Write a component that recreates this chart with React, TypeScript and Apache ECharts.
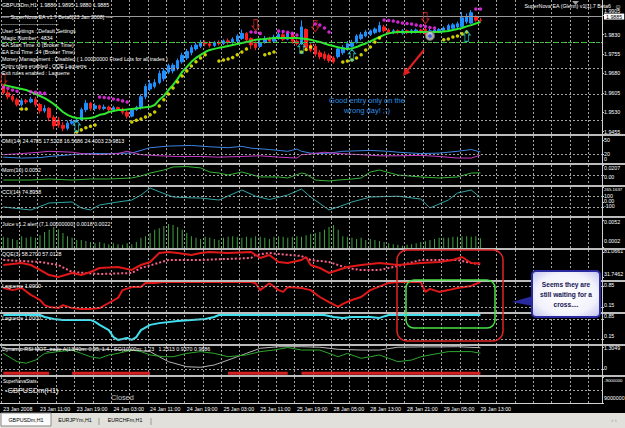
import { useEffect, useRef } from 'react';
import * as echarts from 'echarts';

const FONT = '"Liberation Sans", Arial, Helvetica, sans-serif';
const FS = 5.3;
const FS_SMALL = 4.4;
const SLOTS = 131;
const BARS = 105;
const GRID_C = '#a4a4a4';

// ---------- data ----------
const timeTickLabels = ['23 Jan 2008', '23 Jan 11:00', '23 Jan 19:00', '24 Jan 03:00', '24 Jan 11:00', '24 Jan 19:00', '25 Jan 03:00', '25 Jan 11:00', '25 Jan 19:00', '28 Jan 05:00', '28 Jan 13:00', '28 Jan 21:00', '29 Jan 05:00', '29 Jan 13:00'];

// [open, close, low, high]
const candles: number[][] = [
  [1.9630, 1.9605, 1.9598, 1.9636], [1.9605, 1.9590, 1.9580, 1.9615], [1.9592, 1.9578, 1.9570, 1.9600], [1.9578, 1.9560, 1.9552, 1.9586],
  [1.9560, 1.9575, 1.9552, 1.9585], [1.9575, 1.9570, 1.9562, 1.9582], [1.9570, 1.9580, 1.9565, 1.9590], [1.9580, 1.9560, 1.9550, 1.9590],
  [1.9560, 1.9535, 1.9525, 1.9566], [1.9535, 1.9545, 1.9528, 1.9558], [1.9545, 1.9510, 1.9495, 1.9550], [1.9510, 1.9478, 1.9465, 1.9518],
  [1.9500, 1.9480, 1.9470, 1.9512], [1.9480, 1.9468, 1.9456, 1.9492], [1.9468, 1.9488, 1.9460, 1.9498], [1.9488, 1.9494, 1.9482, 1.9504],
  [1.9494, 1.9500, 1.9490, 1.9510], [1.9500, 1.9540, 1.9496, 1.9548], [1.9540, 1.9565, 1.9530, 1.9578], [1.9565, 1.9545, 1.9535, 1.9570],
  [1.9545, 1.9555, 1.9535, 1.9565], [1.9555, 1.9545, 1.9538, 1.9560], [1.9545, 1.9550, 1.9538, 1.9560], [1.9550, 1.9540, 1.9532, 1.9556],
  [1.9540, 1.9548, 1.9535, 1.9555], [1.9548, 1.9542, 1.9535, 1.9552], [1.9542, 1.9530, 1.9522, 1.9548], [1.9530, 1.9515, 1.9505, 1.9540],
  [1.9515, 1.9540, 1.9510, 1.9545], [1.9540, 1.9548, 1.9535, 1.9555], [1.9548, 1.9590, 1.9540, 1.9600], [1.9590, 1.9630, 1.9580, 1.9640],
  [1.9620, 1.9640, 1.9612, 1.9655], [1.9630, 1.9645, 1.9622, 1.9658], [1.9645, 1.9680, 1.9638, 1.9692], [1.9660, 1.9690, 1.9650, 1.9700],
  [1.9685, 1.9710, 1.9678, 1.9718], [1.9690, 1.9712, 1.9680, 1.9720], [1.9700, 1.9730, 1.9692, 1.9738], [1.9725, 1.9750, 1.9718, 1.9760],
  [1.9740, 1.9765, 1.9732, 1.9775], [1.9760, 1.9780, 1.9750, 1.9790], [1.9775, 1.9790, 1.9768, 1.9800], [1.9785, 1.9800, 1.9778, 1.9810],
  [1.9800, 1.9795, 1.9785, 1.9808], [1.9795, 1.9788, 1.9780, 1.9805], [1.9788, 1.9800, 1.9782, 1.9806], [1.9800, 1.9796, 1.9788, 1.9808],
  [1.9796, 1.9806, 1.9790, 1.9812], [1.9806, 1.9800, 1.9792, 1.9815], [1.9800, 1.9812, 1.9795, 1.9820], [1.9805, 1.9825, 1.9798, 1.9832],
  [1.9815, 1.9835, 1.9810, 1.9850], [1.9835, 1.9810, 1.9800, 1.9840], [1.9815, 1.9790, 1.9775, 1.9820], [1.9795, 1.9780, 1.9770, 1.9805],
  [1.9785, 1.9800, 1.9778, 1.9810], [1.9800, 1.9815, 1.9795, 1.9825], [1.9815, 1.9805, 1.9798, 1.9822], [1.9805, 1.9820, 1.9800, 1.9830],
  [1.9815, 1.9832, 1.9810, 1.9840], [1.9830, 1.9812, 1.9805, 1.9838], [1.9812, 1.9835, 1.9808, 1.9838], [1.9830, 1.9805, 1.9795, 1.9836],
  [1.9805, 1.9795, 1.9788, 1.9812], [1.9795, 1.9860, 1.9790, 1.9885], [1.9850, 1.9780, 1.9770, 1.9855], [1.9790, 1.9770, 1.9762, 1.9800],
  [1.9785, 1.9755, 1.9745, 1.9795], [1.9760, 1.9745, 1.9735, 1.9770], [1.9755, 1.9738, 1.9730, 1.9765], [1.9750, 1.9730, 1.9722, 1.9758],
  [1.9740, 1.9725, 1.9718, 1.9748], [1.9745, 1.9775, 1.9738, 1.9785], [1.9760, 1.9780, 1.9752, 1.9790], [1.9775, 1.9795, 1.9768, 1.9805],
  [1.9785, 1.9800, 1.9780, 1.9810], [1.9800, 1.9825, 1.9795, 1.9832], [1.9815, 1.9830, 1.9808, 1.9840], [1.9825, 1.9840, 1.9820, 1.9848],
  [1.9830, 1.9845, 1.9825, 1.9850], [1.9838, 1.9852, 1.9832, 1.9858], [1.9842, 1.9865, 1.9838, 1.9880], [1.9860, 1.9845, 1.9838, 1.9868],
  [1.9848, 1.9838, 1.9832, 1.9855], [1.9838, 1.9845, 1.9832, 1.9852], [1.9845, 1.9838, 1.9832, 1.9850], [1.9836, 1.9845, 1.9830, 1.9852],
  [1.9845, 1.9840, 1.9832, 1.9850], [1.9838, 1.9846, 1.9832, 1.9852], [1.9840, 1.9848, 1.9835, 1.9854], [1.9848, 1.9840, 1.9834, 1.9852],
  [1.9850, 1.9832, 1.9825, 1.9858], [1.9832, 1.9845, 1.9828, 1.9852], [1.9840, 1.9848, 1.9835, 1.9852], [1.9842, 1.9850, 1.9836, 1.9856],
  [1.9845, 1.9856, 1.9840, 1.9862], [1.9848, 1.9865, 1.9842, 1.9872], [1.9855, 1.9868, 1.9850, 1.9875], [1.9860, 1.9872, 1.9855, 1.9880],
  [1.9862, 1.9895, 1.9858, 1.9918], [1.9880, 1.9900, 1.9872, 1.9912], [1.9875, 1.9915, 1.9870, 1.9925], [1.9900, 1.9886, 1.9880, 1.9905],
  [1.9886, 1.9885, 1.9880, 1.9895],
];

const maLine = [
  1.9636, 1.9632, 1.9628, 1.9624, 1.9620, 1.9616, 1.9609, 1.9601, 1.9593, 1.9585,
  1.9574, 1.9562, 1.9547, 1.9531, 1.9520, 1.9512, 1.9508, 1.9506, 1.9506, 1.9508,
  1.9512, 1.9520, 1.9523, 1.9531, 1.9535, 1.9539, 1.9539, 1.9541, 1.9543, 1.9545,
  1.9547, 1.9549, 1.9551, 1.9558, 1.9578, 1.9593, 1.9616, 1.9636, 1.9659, 1.9686,
  1.9705, 1.9725, 1.9740, 1.9752, 1.9763, 1.9771, 1.9775, 1.9779, 1.9782, 1.9786,
  1.9790, 1.9794, 1.9798, 1.9802, 1.9806, 1.9810, 1.9812, 1.9813, 1.9815, 1.9817,
  1.9817, 1.9817, 1.9817, 1.9817, 1.9817, 1.9815, 1.9813, 1.9810, 1.9806, 1.9802,
  1.9796, 1.9790, 1.9786, 1.9781, 1.9777, 1.9775, 1.9777, 1.9782, 1.9790, 1.9796,
  1.9804, 1.9813, 1.9821, 1.9829, 1.9835, 1.9838, 1.9840, 1.9840, 1.9840, 1.9840,
  1.9840, 1.9840, 1.9840, 1.9840, 1.9840, 1.9840, 1.9842, 1.9844, 1.9848, 1.9852,
  1.9856, 1.9862, 1.9867, 1.9873, 1.9879,
];

const sarAbove = [
  [0, 1.9628], [1, 1.9623], [2, 1.9616], [3, 1.9611], [6, 1.9609], [7, 1.9607], [8, 1.9605], [9, 1.9603],
  [21, 1.9589], [22, 1.9587], [23, 1.9585], [24, 1.9581], [25, 1.9578], [26, 1.9574], [27, 1.9570],
  [54, 1.9840], [55, 1.9839], [56, 1.9835],
  [60, 1.9844], [61, 1.9842], [62, 1.9839], [63, 1.9835], [64, 1.9829],
  [68, 1.9871], [69, 1.9867], [70, 1.9856], [71, 1.9840],
  [83, 1.9887], [84, 1.9885], [85, 1.9883], [86, 1.9879], [87, 1.9875], [88, 1.9873], [89, 1.9871], [90, 1.9867], [91, 1.9864], [92, 1.9862], [93, 1.9858], [94, 1.9856],
  [103, 1.9929], [104, 1.9929],
];
const sarBelow = [
  [4, 1.9543], [5, 1.9543],
  [16, 1.9454], [17, 1.9462], [18, 1.9470], [19, 1.9476], [20, 1.9481],
  [28, 1.9492], [29, 1.9499], [30, 1.9504], [31, 1.9512], [32, 1.9520], [33, 1.9531],
  [34, 1.9554], [35, 1.9578], [36, 1.9601], [37, 1.9624], [38, 1.9647], [39, 1.9670], [40, 1.9690], [41, 1.9709], [42, 1.9725], [43, 1.9740], [44, 1.9752],
  [47, 1.9728], [48, 1.9732], [49, 1.9736], [50, 1.9742], [51, 1.9752], [52, 1.9763], [53, 1.9775],
  [57, 1.9752], [58, 1.9757], [59, 1.9763],
  [65, 1.9763], [66, 1.9773], [67, 1.9782],
  [74, 1.9724], [75, 1.9728], [76, 1.9732], [77, 1.9740], [78, 1.9752], [79, 1.9771], [80, 1.9782], [81, 1.9802], [82, 1.9817],
  [96, 1.9810], [97, 1.9813], [98, 1.9821], [99, 1.9825], [100, 1.9833], [101, 1.9840],
];
const sellArrows = [[0, 1.9655], [55, 1.9867], [68, 1.9863], [92, 1.9894]];
const buyArrows = [[16, 1.9477], [65, 1.9780], [76, 1.9752], [101, 1.9825]];
const closeMarks = [[93, 1.9825]];
const priceTicks = [1.9905, 1.9830, 1.9755, 1.9680, 1.9605, 1.9530, 1.9455];
const bidPrice = 1.9885;
const stopLevel = 1.9826;

const dmiPlus = [[0, 13], [4, 11], [8, 12], [10, 14.5], [15, 18.5], [19, 21], [23, 21], [28, 22], [32, 34], [36, 37.6], [41, 39], [45, 36], [49, 34], [52, 37], [54, 33], [58, 30], [62, 26], [64, 31], [65, 26], [67, 22], [69, 21], [71, 22], [74, 26], [80, 28], [84, 26], [86, 24], [91, 21], [95, 22], [99, 26], [102, 30], [104, 24.5]];
const dmiMinus = [[0, 18.5], [4, 21], [8, 24], [10, 26], [15, 24], [17, 21], [21, 18.5], [25, 21], [27, 26], [30, 18.5], [34, 16], [38, 14.5], [43, 14.5], [47, 13], [52, 14.5], [56, 16], [60, 13], [64, 11], [65, 18.5], [67, 20], [70, 24], [73, 21], [78, 18.5], [82, 16], [86, 16], [91, 17], [95, 14.5], [99, 11], [102, 11], [104, 17.5]];
const momLine = [[0, -0.0089], [6, -0.0089], [10, -0.0069], [15, -0.0089], [19, -0.0069], [23, -0.0069], [28, -0.0049], [30, -0.0010], [32, 0.0049], [35, 0.0108], [37, 0.0168], [40, 0.0177], [43, 0.0150], [45, 0.0069], [47, 0.0049], [49, 0.0010], [52, 0.0069], [56, -0.0029], [60, -0.0029], [62, -0.0049], [65, 0.0049], [66, 0.0030], [68, -0.0089], [71, -0.0108], [73, -0.0089], [76, -0.0069], [78, -0.0049], [80, 0.0069], [82, 0.0108], [86, 0.0010], [91, -0.0029], [95, -0.0049], [99, -0.0029], [102, 0.0049], [104, 0.0052]];
const cciLine = [[0, -94], [2, -112], [6, -148], [10, -22], [15, -4], [17, -112], [19, -148], [21, -58], [25, -4], [28, 31], [30, 120], [32, 247], [34, 180], [37, 85], [41, 70], [43, 67], [47, 31], [52, 211], [55, 100], [58, 40], [62, 121], [65, 229], [67, 85], [71, -148], [73, -94], [76, -4], [80, 85], [86, 100], [91, 49], [93, -112], [97, 31], [99, 157], [102, 211], [104, 75]];
const juiceHist = [
  0.0021, 0.0019, 0.0017, 0.0015, 0.0022, 0.0019, 0.0021, 0.0019, 0.0024, 0.0030,
  0.0034, 0.0039, 0.0035, 0.0028, 0.0022, 0.0019, 0.0015, 0.0015, 0.0013, 0.0011,
  0.0009, 0.0011, 0.0009, 0.0007, 0.0009, 0.0007, 0.0006, 0.0009, 0.0007, 0.0011,
  0.0019, 0.0022, 0.0028, 0.0034, 0.0037, 0.0041, 0.0045, 0.0043, 0.0039, 0.0034,
  0.0028, 0.0022, 0.0019, 0.0017, 0.0021, 0.0019, 0.0017, 0.0015, 0.0019, 0.0021,
  0.0022, 0.0021, 0.0019, 0.0021, 0.0019, 0.0022, 0.0021, 0.0019, 0.0017, 0.0021,
  0.0022, 0.0021, 0.0019, 0.0021, 0.0022, 0.0021, 0.0024, 0.0026, 0.0028, 0.0030,
  0.0034, 0.0039, 0.0043, 0.0034, 0.0022, 0.0021, 0.0019, 0.0017, 0.0019, 0.0015,
  0.0017, 0.0015, 0.0013, 0.0011, 0.0009, 0.0007, 0.0006, 0.0004, 0.0006, 0.0007,
  0.0009, 0.0011, 0.0013, 0.0015, 0.0017, 0.0019, 0.0019, 0.0019, 0.0021, 0.0021,
  0.0022, 0.0022, 0.0021, 0.0022, 0.0018,
];
const juiceLevel = 0.0021;
const qqeLine = [[0, 55.5], [4, 59.4], [6, 55.5], [8, 45.7], [10, 35.8], [12, 31.9], [15, 39.8], [17, 35.8], [19, 41.7], [21, 49.6], [25, 51.6], [28, 45.7], [30, 55.5], [32, 61.4], [34, 79.1], [36, 81.1], [38, 79.1], [41, 75.2], [43, 79.1], [45, 81.1], [49, 79.1], [54, 81.1], [56, 69.3], [58, 75.2], [60, 61.4], [62, 59.4], [65, 65.3], [66, 71.2], [67, 55.5], [69, 49.6], [71, 39.8], [73, 45.7], [75, 51.6], [78, 55.5], [82, 59.4], [86, 55.5], [91, 59.4], [95, 61.4], [98, 65.3], [100, 71.2], [102, 59.4], [104, 58.27]];
const qqeSignal = [[0, 65.3], [8, 61.4], [12, 55.5], [15, 41.7], [21, 37.8], [28, 39.8], [30, 49.6], [36, 65.3], [43, 65.3], [54, 69.3], [55, 75.2], [58, 79.1], [60, 77.1], [65, 73.2], [67, 65.3], [71, 61.4], [75, 49.6], [78, 45.7], [82, 45.7], [86, 53.5], [91, 65.3], [95, 65.3], [99, 65.3], [102, 59.4], [104, 57.01]];
const lagRed = [[0, 0.8], [2, 0.73], [4, 0.8], [6, 0.57], [8, 0.4], [9, 0.23], [10, 0.17], [12, 0.13], [13, 0.23], [15, 0.13], [17, 0.1], [19, 0.1], [21, 0.13], [23, 0.3], [25, 0.47], [26, 0.73], [28, 0.83], [30, 0.83], [31, 0.97], [33, 0.97], [35, 1], [54, 1], [55, 0.96], [56, 0.73], [58, 0.96], [60, 0.73], [61, 0.67], [62, 0.83], [65, 0.8], [67, 0.73], [69, 0.5], [71, 0.33], [73, 0.17], [74, 0.27], [76, 0.4], [78, 0.5], [80, 0.73], [84, 0.97], [86, 1], [91, 1], [92, 0.67], [93, 0.77], [95, 0.67], [97, 0.73], [99, 0.8], [102, 0.87], [104, 1]];
const lagCyan = [[0, 1], [8, 1], [9, 0.93], [11, 0.86], [13, 0.83], [19, 0.83], [20, 0.76], [21, 0.66], [23, 0.48], [24, 0.24], [25, 0.14], [26, 0.17], [27, 0.21], [28, 0.14], [29, 0.24], [30, 0.48], [32, 0.66], [34, 0.72], [38, 0.79], [44, 0.86], [46, 0.93], [47, 1], [70, 1], [72, 0.93], [74, 0.9], [76, 0.93], [80, 0.93], [82, 0.9], [84, 1], [104, 1]];
const dynGreen = [[0, 0.93], [3, 0.46], [5, 0.37], [7, 0.55], [9, 0.93], [12, 1.03], [15, 1.12], [17, 0.93], [19, 0.74], [21, 0.65], [23, 0.84], [25, 0.93], [28, 1.12], [30, 1.03], [32, 0.84], [35, 0.74], [37, 0.74], [40, 0.93], [43, 1.03], [46, 0.93], [49, 0.74], [53, 0.84], [56, 1.03], [59, 1.12], [62, 1.26], [65, 1.12], [69, 1.12], [71, 0.93], [73, 0.74], [75, 0.93], [78, 0.65], [80, 0.74], [82, 0.84], [84, 0.65], [86, 0.46], [89, 0.55], [91, 0.74], [93, 0.84], [95, 0.93], [97, 1.03], [102, 1.03], [104, 0.94]];
const dynGrey = [[0, 1.2], [10, 1.15], [20, 1.18], [28, 1.12], [32, 1.03], [34, 0.74], [36, 0.46], [40, 0.17], [43, 0.14], [46, 0.27], [49, 0.55], [53, 0.93], [56, 1.22], [60, 1.31], [65, 1.31], [69, 1.28], [73, 1.16], [78, 1.12], [82, 1.12], [86, 1.28], [91, 1.3], [95, 1.3], [99, 1.31], [104, 1.25]];
const dynSignalSegments = [[0, 10], [15, 32], [49, 62], [65, 104]];
const dynSignalLevel = -0.2;

// ---------- layout ----------
const panels = [
  { top: 0, h: 134 }, { top: 136, h: 27 }, { top: 165, h: 20 }, { top: 187, h: 29 }, { top: 218, h: 30 },
  { top: 250, h: 30 }, { top: 282, h: 30 }, { top: 315, h: 29 }, { top: 346, h: 29 }, { top: 377, h: 26 },
];
const separatorsY = [134, 163, 185, 216, 248, 280, 312, 344, 375];

type Lbl = [number, string, number];
const panelAxes: { min: number; max: number; inverse?: boolean; labels: Lbl[] }[] = [
  { min: 1.9446, max: 1.9964, labels: priceTicks.map((v) => [v, v.toFixed(4), v === 1.9905 ? -4 : 0] as Lbl) },
  { min: 0, max: 60, labels: [[50, '50', -1], [20, '20', 0], [0, '0', -4]] },
  { min: -0.0187, max: 0.0207, labels: [[0.0207, '0.0207', 3], [0, '0.00', 1], [-0.0187, '-0.0187', -4]] },
  { min: -255.859, max: 265.1637, labels: [[265.1637, '265.1637', 2], [100, '100', 0], [0, '0.00', -1], [-100, '-100', -1], [-255.859, '-255.859', -4]] },
  { min: 0, max: 0.0056, labels: [[0.0052, '0.0052', 2], [0.0002, '0.0002', -6]] },
  { min: 26, max: 85, labels: [[81.0661, '81.0661', -1], [31.7462, '31.7462', -3]] },
  { min: 0, max: 1, labels: [[0.85, '0.85', -2], [0.15, '0.15', -3], [0, '0.00', -5]] },
  { min: 0, max: 1, labels: [[0.85, '0.85', -3], [0.15, '0.15', -4], [0, '0.00', -6]] },
  { min: -0.3, max: 1.35, labels: [[1.3049, '1.3049', 1], [0, '0', -2]] },
  { min: -9000000, max: 9000000, inverse: true, labels: [[-9000000, '-9000000', 3], [9000000, '9000000', -5]] },
];

function shiftRich() {
  const r: Record<string, any> = {};
  for (let s = -8; s <= 8; s++) {
    const pad = s >= 0 ? [2 * s, 0, 0, 0] : [0, 0, -2 * s, 0];
    r['s' + (s + 8)] = { fontSize: FS, fontFamily: FONT, color: '#ffffff', padding: pad, lineHeight: 6 };
    r['t' + (s + 8)] = { fontSize: FS_SMALL, fontFamily: FONT, color: '#ffffff', padding: pad, lineHeight: 5 };
  }
  return r;
}

function levels(vals: number[], color = GRID_C) {
  return {
    silent: true, symbol: ['none', 'none'], label: { show: false },
    lineStyle: { color, type: [2, 2], width: 1 },
    data: vals.map((v) => ({ yAxis: v })),
  };
}

function txt(x: number, y: number, text: string, o: any = {}) {
  const align = o.align || 'left';
  return {
    type: 'text', x, y, z: 100, silent: true,
    style: {
      text, fill: o.fill || '#ffffff', fontSize: o.size || FS, fontFamily: FONT,
      fontWeight: o.weight || 'normal', align, textAlign: align,
      verticalAlign: 'middle', textVerticalAlign: 'middle',
    },
  };
}

function buildOption() {
  const last = panels.length - 1;
  const grid = panels.map((p) => ({ left: 1, width: 601, top: p.top, height: p.h, containLabel: false, outerBoundsMode: 'none' }));
  const slots = Array.from({ length: SLOTS }, (_, i) => String(i));
  const xAxis = panels.map((_, i) => ({
    type: 'category', gridIndex: i, data: slots, boundaryGap: true,
    axisLine: { show: false }, axisTick: { show: false },
    axisLabel: i === last ? {
      show: true, interval: (idx: number) => idx % 8 === 0 && idx < BARS,
      formatter: (v: string) => timeTickLabels[Number(v) / 8] ?? '',
      align: 'left', color: '#ffffff', fontSize: FS, fontFamily: FONT, margin: 3,
    } : { show: false },
    splitLine: { show: true, interval: (idx: number) => idx % 4 === 0, lineStyle: { color: GRID_C, type: [2, 2], width: 1 } },
  }));
  const rich = shiftRich();
  const yAxis = panelAxes.map((a, i) => {
    const vals = a.labels.map((l) => l[0]);
    return {
      type: 'value', gridIndex: i, position: 'right', min: a.min, max: a.max, inverse: !!a.inverse,
      axisLine: { show: false }, splitLine: { show: false },
      axisTick: { show: true, customValues: vals, length: 2, lineStyle: { color: '#cccccc' } },
      axisLabel: {
        show: true, customValues: vals, margin: 2, color: '#ffffff', fontSize: FS, fontFamily: FONT,
        formatter: (v: number) => {
          const l = a.labels.find((q) => Math.abs(q[0] - v) <= 1e-9 * Math.max(1, Math.abs(v)));
          if (!l) return '';
          const s = Math.max(-8, Math.min(8, l[2]));
          const key = l[1].length >= 8 ? 't' : 's';
          return `{${key}${s + 8}|${l[1]}}`;
        },
        rich,
      },
    };
  });

  const line = (i: number, data: any, color: string, width = 1, extra: any = {}) => ({
    type: 'line', xAxisIndex: i, yAxisIndex: i, data, showSymbol: false, symbol: 'none',
    lineStyle: { color, width, ...(extra.lineStyle || {}) }, silent: true, ...extra, z: extra.z ?? 3,
  });

  const signal = Array.from({ length: BARS }, (_, i) =>
    dynSignalSegments.some(([a, b]) => i >= a && i <= b) ? dynSignalLevel : null);

  const series: any[] = [
    {
      type: 'candlestick', xAxisIndex: 0, yAxisIndex: 0, data: candles, barWidth: 3, silent: true,
      itemStyle: { color: '#1e8fff', color0: '#ff1c1c', borderColor: '#1e8fff', borderColor0: '#ff1c1c', borderWidth: 1 },
      markLine: {
        silent: true, symbol: ['none', 'none'], label: { show: false },
        data: [
          ...priceTicks.map((v) => ({ yAxis: v, lineStyle: { color: GRID_C, type: [2, 2], width: 1 } })),
          { yAxis: stopLevel, lineStyle: { color: '#2fc02f', type: [4, 3], width: 1 } },
          {
            yAxis: bidPrice, lineStyle: { color: '#9a9a9a', type: 'solid', width: 1 },
            label: { show: true, position: 'end', formatter: bidPrice.toFixed(4), color: '#000000', backgroundColor: '#ffffff', fontSize: FS, fontFamily: FONT, lineHeight: 6, padding: [0, 2], distance: 2 },
          },
        ],
      },
    },
    line(0, maLine, '#2ee82e', 2, { z: 4 }),
    { type: 'scatter', xAxisIndex: 0, yAxisIndex: 0, data: sarAbove, symbol: 'circle', symbolSize: 3.5, itemStyle: { color: '#ff30ff' }, silent: true, z: 5 },
    { type: 'scatter', xAxisIndex: 0, yAxisIndex: 0, data: sarBelow, symbol: 'circle', symbolSize: 3.5, itemStyle: { color: '#ffff00' }, silent: true, z: 5 },
    {
      type: 'scatter', xAxisIndex: 0, yAxisIndex: 0, data: sellArrows, silent: true, z: 6,
      symbol: 'path://M2,0 L6,0 L6,6 L8,6 L4,10 L0,6 L2,6 Z', symbolSize: [7, 11],
      itemStyle: { color: 'rgba(0,0,0,0)', borderColor: '#e02828', borderWidth: 1 },
    },
    {
      type: 'scatter', xAxisIndex: 0, yAxisIndex: 0, data: buyArrows, silent: true, z: 6,
      symbol: 'path://M4,0 L8,4 L6,4 L6,10 L2,10 L2,4 L0,4 Z', symbolSize: [7, 11],
      itemStyle: { color: 'rgba(0,0,0,0)', borderColor: '#30d8d8', borderWidth: 1 },
    },
    { type: 'scatter', xAxisIndex: 0, yAxisIndex: 0, data: closeMarks, symbol: 'circle', symbolSize: 9, itemStyle: { color: '#d0d0d0', borderColor: '#707070', borderWidth: 1 }, silent: true, z: 7 },
    { type: 'scatter', xAxisIndex: 0, yAxisIndex: 0, data: closeMarks, symbol: 'circle', symbolSize: 3.5, itemStyle: { color: '#2040ff' }, silent: true, z: 8 },

    line(1, dmiPlus, '#3d83e0', 1, { markLine: levels([20]) }),
    line(1, dmiMinus, '#c83cc8', 1),
    line(2, momLine, '#36b436', 1, { markLine: levels([0]) }),
    line(3, cciLine, '#34a6a6', 1, { markLine: levels([100, -100]) }),
    {
      type: 'bar', xAxisIndex: 4, yAxisIndex: 4, data: juiceHist, barWidth: 1, silent: true,
      itemStyle: { color: '#3fa33f' }, markLine: levels([juiceLevel], '#e0a040'),
    },
    line(5, qqeLine, '#e01818', 2, { z: 4 }),
    line(5, qqeSignal, '#dcdc70', 1, { lineStyle: { type: [2, 2] } }),
    line(6, lagRed, '#e01818', 2, { markLine: levels([0.85, 0.15]) }),
    line(7, lagCyan, '#40e0f0', 2, { markLine: levels([0.85, 0.15]) }),
    line(8, dynGrey, '#b4b4b4', 1, { markLine: levels([0]) }),
    line(8, dynGreen, '#2ca82c', 1),
    line(8, signal, '#d42020', 3, { connectNulls: false }),
    line(9, [], '#000000', 1, { markLine: levels([0]) }),
  ];

  const headerLines = [
    '---- SuperNova EA v1.7 Beta6[23 Jan 2008] ----',
    '--------------------------------',
    'User Settings : Default Settings',
    'Magic Number : 4834',
    'EA Start Time :0 (Broker Time)',
    'EA End Time :24 (Broker Time)',
    'Money Management : Disabled ( 1.00000000 Fixed Lots for all trades )',
    'Entry rules enabled : QQE Laguerre',
    'Exit rules enabled : Laguerre',
  ];
  const headerY = [17, 24, 31, 38, 45, 52, 59, 66, 73];

  const graphic: any[] = [
    ...separatorsY.map((y) => ({ type: 'rect', z: 90, silent: true, shape: { x: 0, y, width: 625, height: 2 }, style: { fill: '#bcbcbc' } })),
    { type: 'rect', z: 90, silent: true, shape: { x: 602, y: 0, width: 1, height: 404 }, style: { fill: '#d0d0d0' } },
    { type: 'rect', z: 90, silent: true, shape: { x: 0, y: 403, width: 603, height: 1 }, style: { fill: '#d0d0d0' } },
    { type: 'polygon', z: 90, silent: true, shape: { points: [[572, 1], [579, 1], [575.5, 5]] }, style: { fill: '#a0a0a0' } },
    txt(2, 5, 'GBPUSDm,H1  1.9886 1.9895 1.9880 1.9885'),
    ...headerLines.map((t, i) => txt(2, headerY[i], t)),
    txt(611, 6, 'SuperNova EA (Glenn) v1[1].7 Beta6', { align: 'right' }),
    txt(618, 6, '☺', { align: 'center', size: 7 }),
    // annotation in main chart
    { type: 'line', z: 95, silent: true, shape: { x1: 424, y1: 50, x2: 406, y2: 72 }, style: { stroke: '#e02020', lineWidth: 2 } },
    { type: 'polygon', z: 95, silent: true, shape: { points: [[403, 76], [410.5, 72.5], [404.5, 67.8]] }, style: { fill: '#e02020' } },
    txt(367, 100, 'Good entry only on the', { fill: '#2f8fe0', size: 7.5, align: 'center' }),
    txt(367, 110, 'wrong day! ;-)', { fill: '#2f8fe0', size: 7.5, align: 'center' }),
    // indicator titles
    txt(2, 141, 'DMI(14) 24.4785 17.5228 16.5686 24.4003 23.9813'),
    txt(2, 170, 'Mom(10) 0.0052'),
    txt(2, 192, 'CCI(14) 74.8958'),
    txt(2, 224, 'Juice v1.2 alert (7,1.00000000) 0.0018 0.0022'),
    txt(2, 254, 'QQE(3) 58.2700 57.0128'),
    txt(2, 286, 'Laguerre 1.0000'),
    txt(2, 318, 'Laguerre 1.0000'),
    txt(2, 349, 'Dynamic-RSI MOT_trade A(13f40m: 0.95, 1.4 - SC(10)00m: 1.23   1.2513 0.9370 0.9886'),
    txt(3, 381, 'SuperNovaStats', { size: 4.6 }),
    txt(5, 390, '-GBPUSDm(H1)', { size: 7.3 }),
    txt(111, 397, 'Closed', { size: 7.3, fill: '#c8c8c8' }),
    // rounded highlight boxes
    { type: 'rect', z: 95, silent: true, shape: { x: 397, y: 250, width: 106, height: 91, r: 10 }, style: { fill: 'none', stroke: '#e02424', lineWidth: 1.5 } },
    { type: 'rect', z: 95, silent: true, shape: { x: 406, y: 280, width: 89, height: 48, r: 8 }, style: { fill: 'none', stroke: '#48e048', lineWidth: 1.5 } },
    // callout
    { type: 'polygon', z: 96, silent: true, shape: { points: [[533, 296], [533, 306], [512, 302]] }, style: { fill: '#2a2aa0' } },
    {
      type: 'rect', z: 97, silent: true, shape: { x: 532, y: 271, width: 68, height: 46, r: 4 },
      style: {
        fill: new echarts.graphic.RadialGradient(0.5, 0.5, 0.75, [{ offset: 0, color: '#ffffff' }, { offset: 0.6, color: '#f2f2fc' }, { offset: 1, color: '#b4b4ec' }]),
        stroke: '#2a2aa0', lineWidth: 2,
      },
    },
    { ...txt(566, 284, 'Seems they are', { fill: '#141450', size: 6.6, weight: 'bold', align: 'center' }), z: 98 },
    { ...txt(566, 294, 'still waiting for a', { fill: '#141450', size: 6.6, weight: 'bold', align: 'center' }), z: 98 },
    { ...txt(566, 304, 'cross....', { fill: '#141450', size: 6.6, weight: 'bold', align: 'center' }), z: 98 },
    // tab bar
    { type: 'rect', z: 90, silent: true, shape: { x: 0, y: 413, width: 625, height: 15 }, style: { fill: '#e2e0da' } },
    { type: 'rect', z: 91, silent: true, shape: { x: 1, y: 413, width: 50, height: 13 }, style: { fill: '#fbfbfb', stroke: '#8a8a8a', lineWidth: 1 } },
    txt(26, 420, 'GBPUSDm,H1', { fill: '#000000', align: 'center' }),
    txt(75, 420, 'EURJPYm,H1', { fill: '#000000', align: 'center' }),
    txt(99, 420, '|', { fill: '#606060', align: 'center', size: 7 }),
    txt(125, 420, 'EURCHFm,H1', { fill: '#000000', align: 'center' }),
    txt(151, 420, '|', { fill: '#606060', align: 'center', size: 7 }),
    txt(614, 420, '‹ ›', { fill: '#909090', align: 'center', size: 6 }),
  ];

  return {
    animation: false,
    backgroundColor: '#000000',
    grid, xAxis, yAxis, series, graphic,
  };
}

export default function App() {
  const ref = useRef<HTMLDivElement>(null);
  useEffect(() => {
    if (!ref.current) return;
    const chart = echarts.init(ref.current, undefined, { renderer: 'svg' });
    chart.setOption(buildOption() as any);
    return () => chart.dispose();
  }, []);
  return <div ref={ref} style={{ position: 'fixed', left: 0, top: 0, width: 625, height: 428, background: '#000' }} />;
}
